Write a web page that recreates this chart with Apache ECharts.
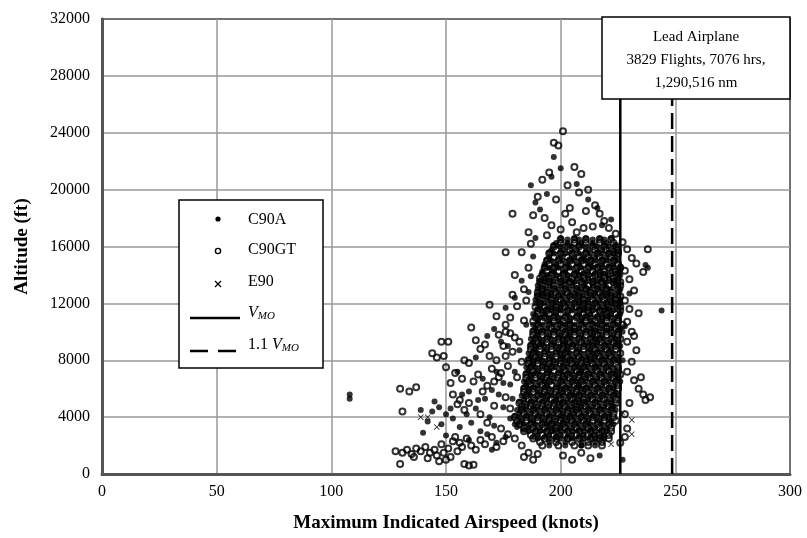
<!DOCTYPE html>
<html>
<head>
<meta charset="utf-8">
<script src="https://cdn.jsdelivr.net/npm/echarts@6/dist/echarts.min.js"></script>
<style>html,body{margin:0;padding:0;background:#fff}#c{width:807px;height:538px}</style>
</head>
<body>
<div id="c"></div>
<script>
// ---- data (knots, ft) ----
const vmo = 226;
const vmo11 = 248.6;
const c90gtCore = [
[200,16500],[206,16500],[211,16500],[217,16500],[222,16500],
[197,16000],[203,16000],[208,16000],[214,16000],[219,16000],[224,16000],
[195,15500],[200,15500],[205,15500],[211,15500],[216,15500],[221,15500],[225,15500],
[194,15000],[199,15000],[204,15000],[209,15000],[213,15000],[218,15000],[223,15000],
[193,14500],[197,14500],[202,14500],[207,14500],[212,14500],[216,14500],[221,14500],[226,14500],
[192,14000],[196,14000],[201,14000],[206,14000],[210,14000],[215,14000],[219,14000],[224,14000],
[191,13500],[195,13500],[200,13500],[204,13500],[209,13500],[214,13500],[218,13500],[223,13500],[226,13500],
[192,13000],[197,13000],[202,13000],[207,13000],[211,13000],[216,13000],[220,13000],[225,13000],
[190,12500],[194,12500],[199,12500],[204,12500],[208,12500],[213,12500],[218,12500],[222,12500],[226,12500],
[191,12000],[196,12000],[201,12000],[206,12000],[210,12000],[215,12000],[220,12000],[224,12000],
[190,11500],[194,11500],[198,11500],[203,11500],[208,11500],[212,11500],[217,11500],[221,11500],[226,11500],
[189,11000],[193,11000],[197,11000],[202,11000],[207,11000],[211,11000],[216,11000],[220,11000],[225,11000],
[190,10500],[195,10500],[200,10500],[204,10500],[209,10500],[214,10500],[218,10500],[223,10500],[227,10500],
[188,10000],[192,10000],[197,10000],[202,10000],[206,10000],[211,10000],[215,10000],[220,10000],[225,10000],
[189,9500],[194,9500],[199,9500],[203,9500],[208,9500],[213,9500],[217,9500],[222,9500],[226,9500],
[187,9000],[191,9000],[196,9000],[201,9000],[205,9000],[210,9000],[214,9000],[219,9000],[224,9000],
[188,8500],[193,8500],[198,8500],[202,8500],[207,8500],[212,8500],[216,8500],[221,8500],[226,8500],
[186,8000],[190,8000],[195,8000],[200,8000],[204,8000],[209,8000],[213,8000],[218,8000],[223,8000],
[187,7500],[192,7500],[196,7500],[201,7500],[206,7500],[210,7500],[215,7500],[220,7500],[225,7500],
[185,7000],[189,7000],[194,7000],[199,7000],[203,7000],[208,7000],[212,7000],[217,7000],[222,7000],[226,7000],
[186,6500],[191,6500],[195,6500],[200,6500],[205,6500],[209,6500],[214,6500],[219,6500],[224,6500],
[184,6000],[188,6000],[193,6000],[198,6000],[202,6000],[207,6000],[211,6000],[216,6000],[221,6000],[225,6000],
[185,5500],[190,5500],[194,5500],[199,5500],[204,5500],[208,5500],[213,5500],[218,5500],[223,5500],
[182,5000],[187,5000],[192,5000],[197,5000],[201,5000],[206,5000],[210,5000],[215,5000],[220,5000],[224,5000],
[183,4500],[188,4500],[193,4500],[198,4500],[203,4500],[207,4500],[212,4500],[217,4500],[222,4500],
[180,4000],[185,4000],[190,4000],[195,4000],[200,4000],[204,4000],[209,4000],[214,4000],[219,4000],[223,4000],
[182,3500],[187,3500],[192,3500],[196,3500],[201,3500],[206,3500],[211,3500],[216,3500],[221,3500],
[184,3000],[189,3000],[194,3000],[198,3000],[203,3000],[208,3000],[213,3000],[218,3000],[222,3000],
[188,2500],[193,2500],[198,2500],[203,2500],[208,2500],[213,2500],[217,2500],[221,2500],
[192,2000],[199,2000],[206,2000],[212,2000],[218,2000]
];
const c90gtCore2 = [
[200,16250],[206,16250],[211,16250],[217,16250],[223,16250],
[198,15750],[204,15750],[209,15750],[215,15750],[220,15750],[225,15750],
[197,15250],[203,15250],[208,15250],[212,15250],[217,15250],[222,15250],
[195,14750],[200,14750],[205,14750],[210,14750],[215,14750],[220,14750],[225,14750],
[194,14250],[199,14250],[204,14250],[209,14250],[214,14250],[219,14250],[224,14250],
[191,13750],[195,13750],[200,13750],[205,13750],[210,13750],[214,13750],[219,13750],[223,13750],
[192,13250],[197,13250],[202,13250],[207,13250],[212,13250],[216,13250],[221,13250],[226,13250],
[190,12750],[194,12750],[198,12750],[203,12750],[208,12750],[213,12750],[217,12750],[222,12750],
[191,12250],[196,12250],[200,12250],[205,12250],[210,12250],[214,12250],[219,12250],[224,12250],
[189,11750],[193,11750],[198,11750],[202,11750],[207,11750],[212,11750],[216,11750],[221,11750],[226,11750],
[190,11250],[195,11250],[200,11250],[205,11250],[210,11250],[215,11250],[220,11250],[224,11250],
[188,10750],[192,10750],[197,10750],[201,10750],[206,10750],[211,10750],[215,10750],[220,10750],[225,10750],
[191,10250],[196,10250],[201,10250],[206,10250],[210,10250],[215,10250],[220,10250],[224,10250],
[188,9750],[192,9750],[197,9750],[202,9750],[206,9750],[211,9750],[216,9750],[220,9750],[225,9750],
[190,9250],[194,9250],[199,9250],[204,9250],[209,9250],[214,9250],[218,9250],[223,9250],
[187,8750],[191,8750],[196,8750],[201,8750],[205,8750],[210,8750],[215,8750],[220,8750],[224,8750],
[189,8250],[193,8250],[198,8250],[203,8250],[208,8250],[213,8250],[217,8250],[222,8250],
[186,7750],[190,7750],[195,7750],[200,7750],[205,7750],[209,7750],[214,7750],[219,7750],[224,7750],
[188,7250],[192,7250],[197,7250],[202,7250],[207,7250],[211,7250],[216,7250],[221,7250],[225,7250],
[185,6750],[189,6750],[194,6750],[199,6750],[204,6750],[208,6750],[213,6750],[218,6750],[223,6750],
[187,6250],[192,6250],[196,6250],[201,6250],[206,6250],[210,6250],[215,6250],[220,6250],[225,6250],
[184,5750],[188,5750],[193,5750],[198,5750],[203,5750],[207,5750],[212,5750],[217,5750],[222,5750],
[186,5250],[191,5250],[196,5250],[200,5250],[205,5250],[210,5250],[214,5250],[219,5250],[224,5250],
[183,4750],[187,4750],[192,4750],[197,4750],[202,4750],[207,4750],[211,4750],[216,4750],[221,4750],
[184,4250],[189,4250],[194,4250],[199,4250],[203,4250],[208,4250],[213,4250],[218,4250],[223,4250],
[181,3750],[185,3750],[190,3750],[195,3750],[200,3750],[205,3750],[210,3750],[214,3750],[219,3750],[224,3750],
[184,3250],[188,3250],[193,3250],[198,3250],[202,3250],[207,3250],[212,3250],[217,3250],[222,3250],
[187,2750],[192,2750],[197,2750],[202,2750],[207,2750],[212,2750],[217,2750],[221,2750],
[191,2250],[198,2250],[205,2250],[212,2250],[218,2250]
];
const c90gtSparse = [
[128,1600],[131,1500],[133,1700],[135,1400],[137,1800],[139,1600],[141,1900],[143,1500],[145,1700],[146,1300],
[148,2100],[149,1500],[151,1800],[152,1200],[153,2300],[155,1600],[157,1900],[158,700],[160,600],[162,650],
[130,700],[136,1200],[142,1100],[147,900],[150,1000],[154,2600],[156,2200],[159,2500],[161,2000],[163,1700],
[165,2400],[167,2100],[170,2600],[172,1900],[175,2300],[177,2800],[180,2500],[183,2000],[186,1500],[184,1200],
[188,1000],[190,1400],[201,1300],[205,1000],[209,1500],[213,1100],
[130,6000],[134,5800],[137,6100],[131,4400],[144,8500],[148,9300],[149,8300],[150,7500],[152,6400],[153,5600],
[155,4900],[156,5200],[158,4500],[160,5000],[162,6500],[164,7000],[166,5800],[168,6200],[170,7400],[172,8000],
[173,6800],[175,9000],[176,10000],[178,11000],[177,7600],[180,9600],[181,11800],[183,15600],[184,13000],[179,8600],
[186,17000],[188,18200],[190,19500],[192,20700],[195,21200],[197,23300],[199,23100],[201,24100],[206,21600],[209,21100],
[203,20300],[208,19800],[212,20000],[198,19300],[204,18700],[211,18500],[215,18900],[217,18300],[219,17800],[214,17400],
[193,18000],[196,17500],[200,17200],[205,17700],[210,17300],[221,17300],[224,16900],[202,18300],[207,17000],[194,16800],
[227,16300],[229,15800],[231,15200],[233,14800],[236,14200],[238,15800],[228,14300],[230,13700],[232,12900],[228,12200],
[230,11600],[234,11300],[229,10700],[231,10000],[229,9300],[233,8700],[231,7900],[229,7200],[232,6600],[234,6000],
[236,5600],[237,5200],[239,5400],[230,5000],[228,4200],[229,3200],[228,2600],[226,2200],[235,6800],[232,9700],
[165,4200],[168,3600],[171,4800],[174,3200],[176,5400],[178,4600],[181,6800],[183,7900],[182,9300],[184,10800],
[185,12200],[186,14500],[187,16200],[179,12600],[180,14000],[176,8300],[174,7100],[171,6500],[169,8300],[167,9100],
[165,8800],[163,9400],[160,7800],[158,8000],[157,6700],[154,7100],[151,9300],[176,15600],[179,18300],[161,10300],
[169,11900],[172,11100],[176,10500],[178,9900],[173,9800],[146,8200]
];
const c90aCore = [
[198,16250],[203,16250],[209,16250],[214,16250],[220,16250],
[196,15750],[201,15750],[207,15750],[212,15750],[218,15750],[223,15750],
[195,15250],[200,15250],[206,15250],[210,15250],[215,15250],[220,15250],[224,15250],
[193,14750],[198,14750],[203,14750],[208,14750],[213,14750],[218,14750],[223,14750],
[192,14250],[197,14250],[202,14250],[207,14250],[212,14250],[217,14250],[222,14250],[225,14250],
[193,13750],[198,13750],[203,13750],[207,13750],[212,13750],[217,13750],[221,13750],[225,13750],
[190,13250],[195,13250],[200,13250],[205,13250],[210,13250],[214,13250],[219,13250],[224,13250],
[192,12750],[196,12750],[201,12750],[206,12750],[211,12750],[215,12750],[220,12750],[225,12750],
[189,12250],[194,12250],[198,12250],[203,12250],[208,12250],[212,12250],[217,12250],[222,12250],[226,12250],
[191,11750],[196,11750],[200,11750],[205,11750],[210,11750],[214,11750],[219,11750],[224,11750],
[188,11250],[193,11250],[198,11250],[203,11250],[208,11250],[213,11250],[218,11250],[222,11250],[226,11250],
[190,10750],[195,10750],[199,10750],[204,10750],[209,10750],[213,10750],[218,10750],[223,10750],
[189,10250],[194,10250],[199,10250],[204,10250],[208,10250],[213,10250],[218,10250],[222,10250],[226,10250],
[190,9750],[195,9750],[200,9750],[204,9750],[209,9750],[214,9750],[218,9750],[223,9750],
[188,9250],[192,9250],[197,9250],[202,9250],[207,9250],[212,9250],[216,9250],[221,9250],[225,9250],
[189,8750],[194,8750],[199,8750],[203,8750],[208,8750],[213,8750],[218,8750],[222,8750],
[187,8250],[191,8250],[196,8250],[201,8250],[206,8250],[211,8250],[215,8250],[220,8250],[225,8250],
[188,7750],[193,7750],[198,7750],[203,7750],[207,7750],[212,7750],[217,7750],[222,7750],
[186,7250],[190,7250],[195,7250],[200,7250],[205,7250],[209,7250],[214,7250],[219,7250],[224,7250],
[187,6750],[192,6750],[197,6750],[202,6750],[206,6750],[211,6750],[216,6750],[221,6750],[225,6750],
[185,6250],[190,6250],[194,6250],[199,6250],[204,6250],[208,6250],[213,6250],[218,6250],[223,6250],
[186,5750],[191,5750],[196,5750],[201,5750],[205,5750],[210,5750],[215,5750],[220,5750],[224,5750],
[184,5250],[189,5250],[194,5250],[198,5250],[203,5250],[208,5250],[212,5250],[217,5250],[222,5250],
[185,4750],[190,4750],[195,4750],[200,4750],[205,4750],[209,4750],[214,4750],[219,4750],[223,4750],
[182,4250],[187,4250],[192,4250],[197,4250],[201,4250],[206,4250],[211,4250],[216,4250],[221,4250],
[183,3750],[188,3750],[193,3750],[198,3750],[203,3750],[208,3750],[212,3750],[217,3750],[222,3750],
[186,3250],[191,3250],[196,3250],[200,3250],[205,3250],[210,3250],[215,3250],[220,3250],
[190,2750],[195,2750],[200,2750],[205,2750],[210,2750],[215,2750],[219,2750],
[195,2250],[202,2250],[209,2250],[215,2250]
];
const c90aCore2 = [
[203,16500],[208,16500],[214,16500],[219,16500],
[200,16000],[205,16000],[211,16000],[216,16000],[221,16000],
[197,15500],[202,15500],[208,15500],[213,15500],[218,15500],[223,15500],
[196,15000],[201,15000],[206,15000],[211,15000],[215,15000],[220,15000],[225,15000],
[195,14500],[199,14500],[204,14500],[209,14500],[214,14500],[218,14500],[223,14500],
[194,14000],[198,14000],[203,14000],[208,14000],[212,14000],[217,14000],[221,14000],[226,14000],
[193,13500],[197,13500],[202,13500],[206,13500],[211,13500],[216,13500],[220,13500],[224,13500],
[190,13000],[194,13000],[199,13000],[204,13000],[209,13000],[213,13000],[218,13000],[222,13000],[226,13000],
[192,12500],[196,12500],[201,12500],[206,12500],[210,12500],[215,12500],[220,12500],[224,12500],
[189,12000],[193,12000],[198,12000],[203,12000],[208,12000],[212,12000],[217,12000],[222,12000],[226,12000],
[192,11500],[196,11500],[200,11500],[205,11500],[210,11500],[214,11500],[219,11500],[223,11500],
[191,11000],[195,11000],[199,11000],[204,11000],[209,11000],[213,11000],[218,11000],[222,11000],
[188,10500],[192,10500],[197,10500],[202,10500],[206,10500],[211,10500],[216,10500],[220,10500],[225,10500],
[190,10000],[194,10000],[199,10000],[204,10000],[208,10000],[213,10000],[217,10000],[222,10000],[227,10000],
[187,9500],[191,9500],[196,9500],[201,9500],[205,9500],[210,9500],[215,9500],[219,9500],[224,9500],
[189,9000],[193,9000],[198,9000],[203,9000],[207,9000],[212,9000],[216,9000],[221,9000],[226,9000],
[186,8500],[190,8500],[195,8500],[200,8500],[204,8500],[209,8500],[214,8500],[218,8500],[223,8500],
[188,8000],[192,8000],[197,8000],[202,8000],[206,8000],[211,8000],[215,8000],[220,8000],[225,8000],
[185,7500],[189,7500],[194,7500],[198,7500],[203,7500],[208,7500],[212,7500],[217,7500],[222,7500],
[187,7000],[191,7000],[196,7000],[201,7000],[205,7000],[210,7000],[214,7000],[219,7000],[224,7000],
[184,6500],[188,6500],[193,6500],[197,6500],[202,6500],[207,6500],[211,6500],[216,6500],[221,6500],[226,6500],
[186,6000],[190,6000],[195,6000],[200,6000],[204,6000],[209,6000],[213,6000],[218,6000],[223,6000],
[183,5500],[187,5500],[192,5500],[196,5500],[201,5500],[206,5500],[210,5500],[215,5500],[220,5500],[225,5500],
[184,5000],[189,5000],[194,5000],[199,5000],[203,5000],[208,5000],[212,5000],[217,5000],[222,5000],
[181,4500],[185,4500],[190,4500],[195,4500],[200,4500],[205,4500],[209,4500],[214,4500],[219,4500],[224,4500],
[182,4000],[187,4000],[192,4000],[197,4000],[202,4000],[206,4000],[211,4000],[216,4000],[221,4000],
[180,3500],[184,3500],[189,3500],[194,3500],[198,3500],[203,3500],[208,3500],[213,3500],[218,3500],[223,3500],
[186,3000],[191,3000],[196,3000],[200,3000],[205,3000],[210,3000],[215,3000],[220,3000],
[190,2500],[195,2500],[200,2500],[205,2500],[210,2500],[215,2500],[219,2500],
[195,2000],[202,2000],[209,2000],[215,2000]
];
const c90aCore3 = [
[200,16600],[206,16600],[211,16600],[217,16600],[222,16600],
[197,16100],[203,16100],[208,16100],[214,16100],[219,16100],[224,16100],
[195,15600],[200,15600],[205,15600],[211,15600],[216,15600],[221,15600],[225,15600],
[194,15100],[199,15100],[204,15100],[209,15100],[213,15100],[218,15100],[223,15100],
[193,14600],[197,14600],[202,14600],[207,14600],[212,14600],[216,14600],[221,14600],[226,14600],
[192,14100],[196,14100],[201,14100],[206,14100],[210,14100],[215,14100],[219,14100],[224,14100],
[191,13600],[195,13600],[200,13600],[204,13600],[209,13600],[214,13600],[218,13600],[223,13600],
[192,13100],[197,13100],[202,13100],[207,13100],[211,13100],[216,13100],[220,13100],[225,13100],
[190,12600],[194,12600],[199,12600],[204,12600],[208,12600],[213,12600],[218,12600],[222,12600],
[191,12100],[196,12100],[201,12100],[206,12100],[210,12100],[215,12100],[220,12100],[224,12100],
[190,11600],[194,11600],[198,11600],[203,11600],[208,11600],[212,11600],[217,11600],[221,11600],
[189,11100],[193,11100],[197,11100],[202,11100],[207,11100],[211,11100],[216,11100],[220,11100],[225,11100],
[190,10600],[195,10600],[200,10600],[204,10600],[209,10600],[214,10600],[218,10600],[223,10600],
[188,10100],[192,10100],[197,10100],[202,10100],[206,10100],[211,10100],[215,10100],[220,10100],[225,10100],
[189,9600],[194,9600],[199,9600],[203,9600],[208,9600],[213,9600],[217,9600],[222,9600],
[187,9100],[191,9100],[196,9100],[201,9100],[205,9100],[210,9100],[214,9100],[219,9100],[224,9100],
[188,8600],[193,8600],[198,8600],[202,8600],[207,8600],[212,8600],[216,8600],[221,8600],
[186,8100],[190,8100],[195,8100],[200,8100],[204,8100],[209,8100],[213,8100],[218,8100],[223,8100],
[187,7600],[192,7600],[196,7600],[201,7600],[206,7600],[210,7600],[215,7600],[220,7600],
[185,7100],[189,7100],[194,7100],[199,7100],[203,7100],[208,7100],[212,7100],[217,7100],[222,7100],
[186,6600],[191,6600],[195,6600],[200,6600],[205,6600],[209,6600],[214,6600],[219,6600],[224,6600],
[184,6100],[188,6100],[193,6100],[198,6100],[202,6100],[207,6100],[211,6100],[216,6100],[221,6100],
[185,5600],[190,5600],[194,5600],[199,5600],[204,5600],[208,5600],[213,5600],[218,5600],[223,5600],
[182,5100],[187,5100],[192,5100],[197,5100],[201,5100],[206,5100],[210,5100],[215,5100],[220,5100],
[183,4600],[188,4600],[193,4600],[198,4600],[203,4600],[207,4600],[212,4600],[217,4600],[222,4600],
[180,4100],[185,4100],[190,4100],[195,4100],[200,4100],[204,4100],[209,4100],[214,4100],[219,4100],
[182,3600],[187,3600],[192,3600],[196,3600],[201,3600],[206,3600],[211,3600],[216,3600],[221,3600],
[184,3100],[189,3100],[194,3100],[198,3100],[203,3100],[208,3100],[213,3100],[218,3100],
[188,2600],[193,2600],[198,2600],[203,2600],[208,2600],[213,2600],[217,2600]
];
const c90aSparse = [
[108,5300],[108,5600],[139,4500],[142,3700],[145,5100],[147,4700],[150,4200],[153,3900],[156,3300],[159,4200],
[161,3600],[163,4600],[165,3000],[167,5300],[169,4000],[171,3400],[173,5600],[175,4700],[178,3900],[178,6300],
[180,7200],[182,8700],[185,10500],[186,12800],[187,13900],[188,15300],[189,16600],[187,20300],[189,19100],[191,18600],
[194,19700],[196,20900],[197,22300],[200,21500],[207,20400],[212,19300],[216,18700],[218,17500],[222,17900],[160,2400],
[150,2700],[140,2900],[170,1700],[237,14700],[238,14500],[244,11500],[230,12700],[228,10400],[227,8000],[227,1000],
[217,1300],[209,2000],
[168,9700],[171,10200],[174,9300],[176,11700],[180,12400],[183,13600],[177,9000],[172,7200],[166,6700],[163,8200],
[160,5800],[157,5600],[155,7200],[152,4600],[148,3500],[144,4400],[164,5200],[170,5900],[175,6400],[179,5300],
[181,3300],[176,2600],[168,2800],[172,2200]
];
const e90 = [
[231,3800],[231,2800],[227,4300],[222,2100],[218,2400],[139,4000],[142,4000],[146,3300],[205,5100],[210,2600],
[215,7500],[200,9000],[224,4900],[213,3100]
];

const FONT = '"Liberation Serif", "Times New Roman", serif';
const chart = echarts.init(document.getElementById('c'), null, {renderer: 'canvas'});
const xPath = 'path://M0,1L1,0L5,4L9,0L10,1L6,5L10,9L9,10L5,6L1,10L0,9L4,5Z';

chart.setOption({
  animation: false,
  backgroundColor: '#fff',
  grid: {left: 102, right: 17, top: 19, bottom: 64, show: true, borderColor: '#000', borderWidth: 2, backgroundColor: '#fff'},
  xAxis: {
    type: 'value', min: 0, max: 300, interval: 50,
    name: 'Maximum Indicated Airspeed (knots)', nameLocation: 'middle', nameGap: 40,
    nameTextStyle: {fontFamily: FONT, fontSize: 19, fontWeight: 'bold', color: '#000'},
    axisLine: {show: true, onZero: false, lineStyle: {color: '#555', width: 3}},
    axisTick: {show: false},
    axisLabel: {fontFamily: FONT, fontSize: 16, color: '#000', margin: 10, formatter: v => String(v)},
    splitLine: {show: true, lineStyle: {color: '#999', width: 1.5}}
  },
  yAxis: {
    type: 'value', min: 0, max: 32000, interval: 4000,
    name: 'Altitude (ft)', nameLocation: 'middle', nameGap: 70, nameRotate: 90,
    nameTextStyle: {fontFamily: FONT, fontSize: 19, fontWeight: 'bold', color: '#000'},
    axisLine: {show: true, onZero: false, lineStyle: {color: '#555', width: 3}},
    axisTick: {show: false},
    axisLabel: {fontFamily: FONT, fontSize: 16, color: '#000', margin: 12, formatter: v => String(v)},
    splitLine: {show: true, lineStyle: {color: '#999', width: 1.5}}
  },
  series: [
    {name: 'C90GT', type: 'scatter', data: c90gtCore.concat(c90gtCore2, c90gtSparse), symbol: 'circle', symbolSize: 6,
     itemStyle: {color: 'rgba(0,0,0,0)', borderColor: '#000', borderWidth: 2}, z: 3},
    {name: 'C90A', type: 'scatter', data: c90aCore.concat(c90aCore2, c90aCore3, c90aSparse), symbol: 'circle', symbolSize: 6,
     itemStyle: {color: '#000'}, z: 4},
    {name: 'E90', type: 'scatter', data: e90, symbol: xPath, symbolSize: 6,
     itemStyle: {color: '#000'}, z: 4},
    {name: 'VMO', type: 'line', data: [[vmo, 0], [vmo, 32000]], symbol: 'none',
     lineStyle: {color: '#000', width: 2.5}, z: 5},
    {name: '1.1 VMO', type: 'line', data: [[vmo11, 0], [vmo11, 32000]], symbol: 'none',
     lineStyle: {color: '#000', width: 2.5, type: [16, 7]}, z: 5}
  ],
  graphic: [
    {type: 'rect', z: 100, shape: {x: 179, y: 200, width: 144, height: 168},
     style: {fill: '#fff', stroke: '#000', lineWidth: 1.5}},
    {type: 'circle', z: 101, shape: {cx: 218, cy: 219, r: 2.6}, style: {fill: '#000'}},
    {type: 'text', z: 101, x: 248, y: 220, style: {text: 'C90A', font: '16px ' + FONT, fill: '#000', verticalAlign: 'middle'}},
    {type: 'circle', z: 101, shape: {cx: 218, cy: 251, r: 2.6}, style: {fill: 'none', stroke: '#000', lineWidth: 1.4}},
    {type: 'text', z: 101, x: 248, y: 250, style: {text: 'C90GT', font: '16px ' + FONT, fill: '#000', verticalAlign: 'middle'}},
    {type: 'polyline', z: 101, shape: {points: [[215, 281], [221, 287]]}, style: {stroke: '#000', lineWidth: 1.3}},
    {type: 'polyline', z: 101, shape: {points: [[221, 281], [215, 287]]}, style: {stroke: '#000', lineWidth: 1.3}},
    {type: 'text', z: 101, x: 248, y: 282, style: {text: 'E90', font: '16px ' + FONT, fill: '#000', verticalAlign: 'middle'}},
    {type: 'line', z: 101, shape: {x1: 190, y1: 318, x2: 240, y2: 318}, style: {stroke: '#000', lineWidth: 2.5}},
    {type: 'text', z: 101, x: 248, y: 313, style: {
      text: '{v|V}{s|MO}', verticalAlign: 'middle',
      rich: {v: {font: 'italic 16px ' + FONT, fill: '#000'}, s: {font: 'italic 11px ' + FONT, fill: '#000', padding: [6, 0, 0, 0]}}}},
    {type: 'line', z: 101, shape: {x1: 190, y1: 351, x2: 240, y2: 351}, style: {stroke: '#000', lineWidth: 2.5, lineDash: [18, 10]}},
    {type: 'text', z: 101, x: 248, y: 345, style: {
      text: '{n|1.1 }{v|V}{s|MO}', verticalAlign: 'middle',
      rich: {n: {font: '16px ' + FONT, fill: '#000'}, v: {font: 'italic 16px ' + FONT, fill: '#000'}, s: {font: 'italic 11px ' + FONT, fill: '#000', padding: [6, 0, 0, 0]}}}},
    {type: 'rect', z: 100, shape: {x: 602, y: 17, width: 188, height: 82},
     style: {fill: '#fff', stroke: '#000', lineWidth: 1.5}},
    {type: 'text', z: 101, x: 696, y: 37, style: {text: 'Lead Airplane', font: '15px ' + FONT, fill: '#000', align: 'center', verticalAlign: 'middle'}},
    {type: 'text', z: 101, x: 696, y: 60, style: {text: '3829 Flights, 7076 hrs,', font: '15px ' + FONT, fill: '#000', align: 'center', verticalAlign: 'middle'}},
    {type: 'text', z: 101, x: 696, y: 83, style: {text: '1,290,516 nm', font: '15px ' + FONT, fill: '#000', align: 'center', verticalAlign: 'middle'}}
  ]
});
</script>
</body>
</html>
